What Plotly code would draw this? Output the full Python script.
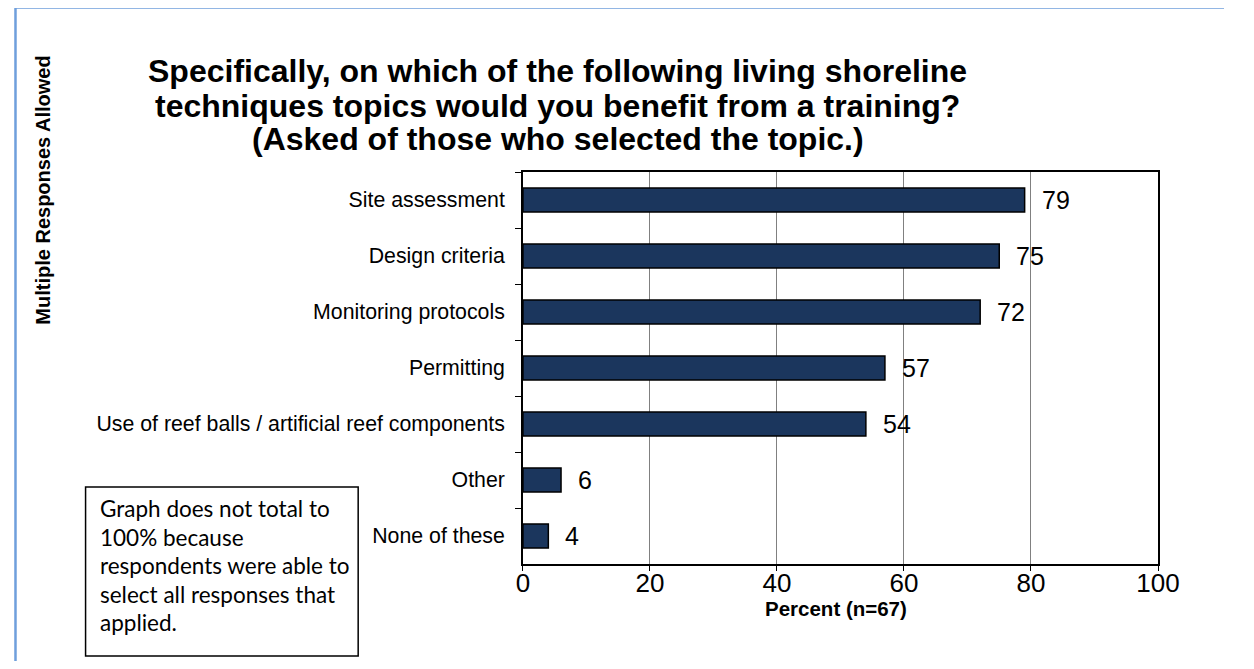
import plotly.graph_objects as go

# Page is shown with an 8px body margin, so the figure is sized to fit inside it.
W, H = 1238, 653
OFF = 8
SX, BX = 0.978, 5.5  # horizontal calibration of the rendered page

categories = ["Site assessment", "Design criteria", "Monitoring protocols", "Permitting",
              "Use of reef balls / artificial reef components", "Other", "None of these"]
values = [79, 75, 72, 57, 54, 6, 4]
x_ticks = [0, 20, 40, 60, 80, 100]

title_lines = ["Specifically, on which of the following living shoreline",
               "techniques topics would you benefit from a training?",
               "(Asked of those who selected the topic.)"]
note_lines = ["Graph does not total to", "100% because", "respondents were able to",
              "select all responses that", "applied."]
side_label = "Multiple Responses Allowed"
x_title = "Percent (n=67)"


def px(x):
    xi = (x - BX) / SX
    return (xi - OFF) / W


def py(y):
    return 1 - (y - OFF) / H


ARIAL = "Arial, Liberation Sans, sans-serif"

fig = go.Figure()
fig.add_trace(go.Bar(
    x=values, y=categories, orientation="h",
    marker=dict(color="#1b365d", line=dict(color="#000000", width=1.5)),
    width=0.43, hoverinfo="x+y",
))

annotations = []
for v, c in zip(values, categories):
    annotations.append(dict(x=v, y=c, xref="x", yref="y", text=str(v), showarrow=False,
                            xanchor="left", xshift=15, yshift=0,
                            font=dict(family=ARIAL, size=25, color="#000")))

title_y = [71, 106, 139]
for t, yy in zip(title_lines, title_y):
    annotations.append(dict(x=px(557), y=py(yy), xref="paper", yref="paper", text="<b>%s</b>" % t,
                            showarrow=False, xanchor="center", yanchor="middle",
                            font=dict(family=ARIAL, size=32, color="#000")))

note_y = [509, 537, 565, 594, 622]
for t, yy in zip(note_lines, note_y):
    annotations.append(dict(x=px(96), y=py(yy), xref="paper", yref="paper", text=t,
                            showarrow=False, xanchor="left", yanchor="middle",
                            font=dict(family="Lato, Open Sans, sans-serif", size=22.5, color="#000")))

annotations.append(dict(x=px(41), y=py(190), xref="paper", yref="paper", text="<b>%s</b>" % side_label,
                        showarrow=False, textangle=-90, xanchor="center", yanchor="middle",
                        font=dict(family=ARIAL, size=20, color="#000")))

annotations.append(dict(x=px(836), y=py(608), xref="paper", yref="paper", text="<b>%s</b>" % x_title,
                        showarrow=False, xanchor="center", yanchor="middle",
                        font=dict(family=ARIAL, size=20.5, color="#000")))

shapes = [
    dict(type="rect", xref="paper", yref="paper", x0=px(84), x1=px(357), y0=py(656), y1=py(487),
         line=dict(color="#000", width=1.5), fillcolor="rgba(0,0,0,0)"),
    dict(type="path", xref="paper", yref="paper",
         path="M %f,%f L %f,%f L %f,%f" % (0.5 / W, py(669), 0.5 / W, py(7.5), 1.0, py(7.5)),
         line=dict(color="#6f9fdc", width=2.5)),
]

fig.update_layout(
    width=W, height=H,
    margin=dict(l=0, r=0, t=0, b=0),
    paper_bgcolor="white", plot_bgcolor="white",
    showlegend=False,
    annotations=annotations,
    shapes=shapes,
    xaxis=dict(domain=[px(522), px(1158)], range=[0, 100], tickvals=x_ticks,
               showgrid=True, gridcolor="#808080", gridwidth=1,
               showline=True, linecolor="#000", linewidth=2, mirror=True,
               ticks="outside", ticklen=5, tickcolor="#000", ticklabelstandoff=-10,
               tickfont=dict(family=ARIAL, size=26, color="#000"),
               zeroline=False, fixedrange=True),
    yaxis=dict(domain=[py(564), py(172)], categoryorder="array", categoryarray=categories,
               autorange="reversed", tickson="boundaries",
               showgrid=False, showline=True, linecolor="#000", linewidth=2, mirror=True,
               ticks="outside", ticklen=6, tickcolor="#000",
               tickfont=dict(family=ARIAL, size=21.3, color="#000"),
               ticksuffix="  ", fixedrange=True),
)

fig.write_html("out.html")
